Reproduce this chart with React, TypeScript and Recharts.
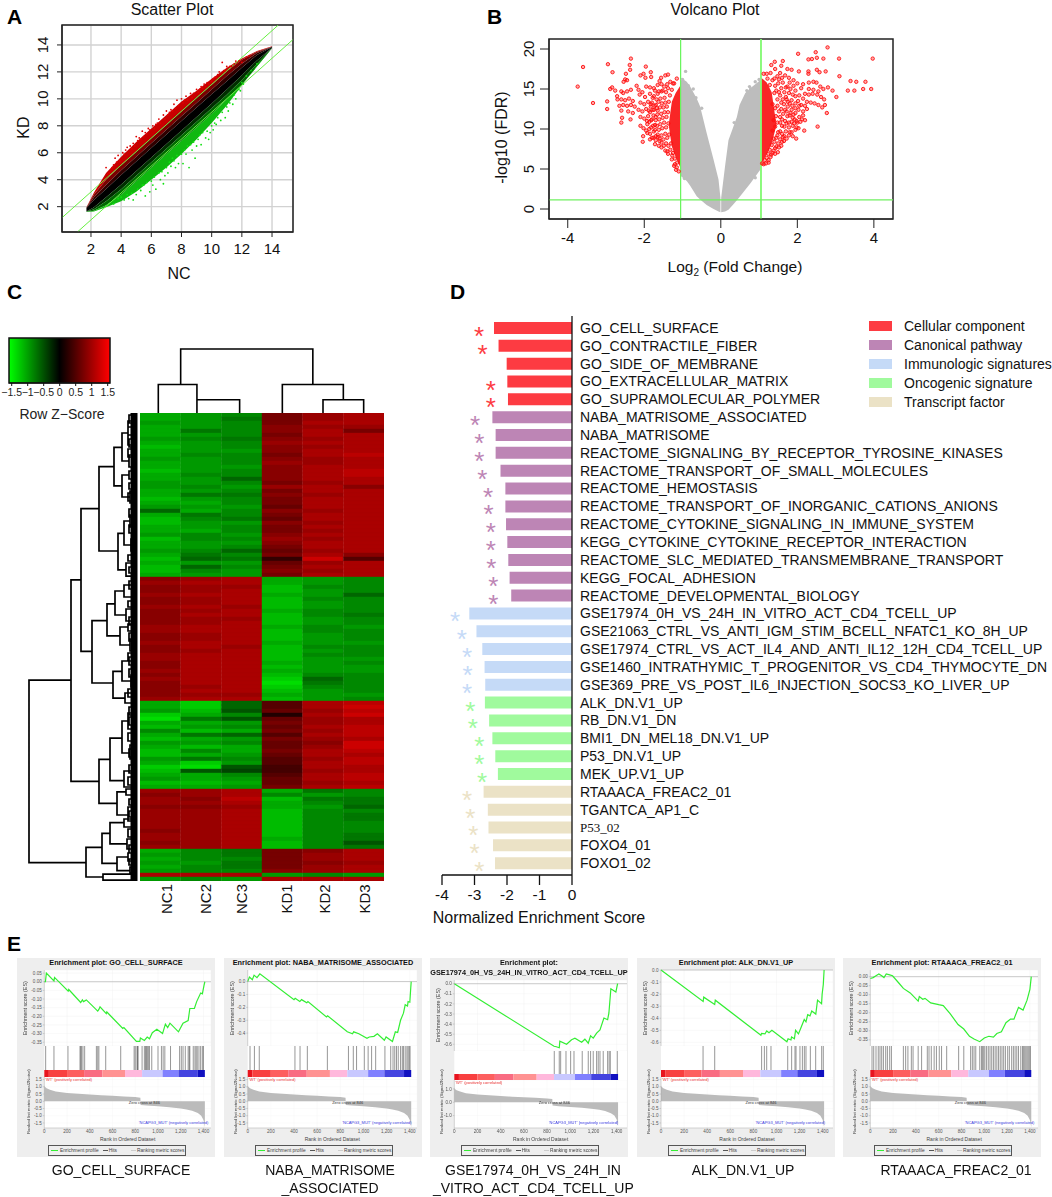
import React from 'react';
import {
  AreaChart, Area, BarChart, Bar, Cell, CartesianGrid, ComposedChart, LabelList, Line, LineChart,
  ReferenceArea, ReferenceLine, Scatter, XAxis, YAxis,
} from 'recharts';

const FONT = '"Liberation Sans", Arial, sans-serif';

// ---------- A: scatter plot, envelopes of the point cloud
const cloudX = [1.7, 2.2, 3, 4, 5, 6, 7, 8, 9, 10, 11, 12, 13, 14];
const redHi = [1.95, 3.05, 4.5, 5.7, 6.8, 7.8, 8.8, 9.8, 10.6, 11.5, 12.3, 13.0, 13.55, 13.9];
const redMid = [1.93, 2.9, 4.0, 5.1, 6.1, 7.1, 8.1, 9.1, 10.1, 11.05, 12.05, 12.9, 13.5, 13.87];
const redDark = [1.9, 2.7, 3.6, 4.7, 5.7, 6.7, 7.7, 8.7, 9.7, 10.7, 11.7, 12.6, 13.4, 13.86];
const blackHi = [1.9, 2.5, 3.32, 4.35, 5.35, 6.35, 7.35, 8.35, 9.35, 10.35, 11.3, 12.3, 13.25, 13.85];
const blackLo = [1.65, 1.95, 2.7, 3.65, 4.65, 5.65, 6.65, 7.65, 8.65, 9.65, 10.7, 11.75, 12.85, 13.8];
const greenDark = [1.63, 1.8, 2.4, 3.3, 4.3, 5.3, 6.3, 7.3, 8.3, 9.3, 10.3, 11.4, 12.6, 13.78];
const greenMid = [1.62, 1.7, 2.1, 2.9, 3.9, 4.9, 5.9, 6.9, 7.9, 8.9, 9.95, 11.05, 12.4, 13.76];
const greenLo = [1.6, 1.65, 1.95, 2.4, 3.1, 4.0, 4.9, 5.9, 7.0, 8.2, 9.5, 11.0, 12.5, 13.75];
const redDots = [
  [2.6, 3.6], [3.0, 4.9], [3.2, 4.5], [3.4, 4.9], [3.6, 5.6], [3.8, 5.8], [3.9, 5.4], [4.1, 6.0], [4.4, 6.4], [4.6, 6.5],
  [4.8, 6.7], [5.0, 7.2], [5.2, 7.1], [5.4, 7.6], [5.6, 7.5], [5.8, 7.8], [6.1, 8.0], [6.3, 8.1], [6.5, 8.5], [6.8, 8.8],
  [7.0, 9.1], [7.3, 9.2], [7.5, 9.6], [7.7, 9.9], [8.0, 10.0], [8.3, 10.2], [8.6, 10.4], [9.0, 10.7], [9.3, 10.9], [9.7, 11.2],
  [10.1, 11.5], [10.3, 11.6], [10.7, 12.7], [10.9, 12.1], [11.3, 12.4], [11.6, 12.8], [12.0, 12.7], [12.3, 13.1], [12.5, 13.2], [9.5, 11.1],
  [3.1, 4.4], [3.5, 5.1], [3.7, 5.3], [4.2, 5.9], [4.3, 6.2], [4.7, 6.3], [4.9, 6.5], [5.1, 6.9], [5.3, 7], [5.5, 7.2],
  [5.7, 7.4], [5.9, 7.7], [6.2, 7.8], [6.4, 8.2], [6.6, 8.2], [6.9, 8.5], [7.1, 8.8], [7.2, 9], [7.4, 9.1], [7.6, 9.3],
  [7.8, 9.5], [8.1, 9.7], [8.2, 9.9], [8.4, 9.9], [8.7, 10.1], [8.8, 10.4], [9.1, 10.5], [9.2, 10.7], [9.4, 10.8], [9.6, 10.9],
  [9.8, 11.1], [10, 11.3], [10.2, 11.6], [10.4, 11.8], [10.5, 12], [10.8, 12.1], [11, 12.4], [11.2, 12.4], [11.5, 12.6], [11.8, 12.8],
];
const greenDots = [
  [3.5, 2.2], [4.2, 2.5], [4.5, 2.6], [4.8, 2.5], [5.0, 2.9], [5.3, 3.2], [5.6, 2.8], [5.9, 3.1], [6.1, 3.6], [6.3, 3.3],
  [6.6, 4.0], [6.9, 4.3], [7.1, 4.5], [7.3, 5.0], [7.6, 4.9], [7.8, 5.2], [8.1, 5.2], [8.5, 4.9], [8.9, 5.6], [8.7, 6.2],
  [9.0, 6.5], [9.3, 6.6], [9.6, 7.1], [9.8, 7.0], [10.1, 7.7], [10.3, 8.1], [10.6, 8.4], [10.9, 8.6], [11.1, 9.1], [11.4, 9.6],
  [11.6, 10.0], [11.9, 10.6], [12.1, 11.1], [12.6, 12.1], [13.0, 12.6], [7.4, 5.6], [8.3, 5.9], [9.9, 7.5], [6.8, 3.7], [5.5, 3.6],
  [3.8, 2.6], [4, 2.7], [4.4, 2.9], [4.7, 3], [5.1, 3.3], [5.4, 3.6], [5.7, 3.8], [6, 3.9], [6.2, 4.2], [6.5, 4.5],
  [6.7, 4.6], [7, 4.9], [7.2, 5.3], [7.5, 5.4], [7.7, 5.8], [8, 5.9], [8.2, 6.2], [8.4, 6.5], [8.6, 6.6], [8.8, 6.8],
  [9.1, 7], [9.2, 7.3], [9.4, 7.5], [9.7, 7.6], [10, 8], [10.2, 8.2], [10.4, 8.6], [10.7, 9], [11, 9.4], [11.2, 9.7],
  [11.5, 10.3], [11.8, 10.7], [12, 11.2], [12.3, 11.7],
];
const scatterTicks = [2, 4, 6, 8, 10, 12, 14];
const upperLine = [{ x: 0.1, y: 1.2 }, { x: 14.42, y: 15.48 }];
const lowerLine = [{ x: 1.12, y: 0.14 }, { x: 15.37, y: 14.38 }];

// ---------- B: volcano plot
const volcanoTicksX = [-4, -2, 0, 2, 4];
const volcanoTicksY = [0, 5, 10, 15, 20];
const grayLeft = [[-1.04, 4.1, 16.4], [-0.89, 3.5, 15.9], [-0.8, 2.9, 15.3], [-0.63, 1.6, 13.8], [-0.54, 1.2, 12.8], [-0.37, 0.5, 9.5], [-0.19, 0, 6.2], [-0.06, -0.3, 3.7], [-0.01, -0.4, 1.4]];
const grayRight = [[0.01, -0.4, 1.4], [0.11, -0.3, 5.3], [0.2, -0.1, 8.6], [0.33, 0.6, 10.3], [0.42, 1.1, 11.5], [0.49, 1.5, 13], [0.64, 2.4, 14.5], [0.77, 3.2, 15.1], [1.03, 4.9, 16.1]];
const redCoreLeft = [[-1.36, 10.4, 10.6], [-1.28, 7.8, 13.4], [-1.18, 6.5, 14.5], [-1.06, 5.2, 15.4]];
const redCoreRight = [[1.06, 5.7, 16.4], [1.2, 6.8, 15.8], [1.33, 8.2, 14.6], [1.45, 10.4, 10.6]];
const grayDots = [[-0.92, 17.2], [-1.0, 16.2], [-0.95, 15.7], [-0.85, 15.4], [-0.72, 15], [-0.65, 13.9], [-0.5, 12.6], [0.75, 15.3], [0.78, 15], [0.9, 15.9], [1.0, 16.2], [0.68, 14.8], [0.35, 10.8], [-0.8, 3.4], [0.9, 3.9], [-0.95, 3.8]];
const redDotsLeft = [
  [-3.74, 15.3], [-3.6, 17.75], [-3.34, 13.25], [-2.97, 13.45], [-2.97, 12.5], [-2.95, 18.1], [-2.83, 17.1], [-2.89, 15], [-2.84, 15.2], [-2.76, 14.8],
  [-2.71, 14.1], [-2.7, 13.7], [-2.35, 18.8], [-2.38, 18], [-2.37, 17.4], [-2.48, 16.9], [-2.5, 16.2], [-2.45, 16.1], [-2.54, 15.9], [-1.96, 17.8],
  [-1.83, 17.1], [-2.02, 16.9], [-2.1, 16.7], [-1.97, 16.4], [-1.82, 16.5], [-1.56, 16.4], [-1.45, 16.7], [-1.38, 16.8], [-1.15, 16.3], [-1.6, 16],
  [-2.6, 14.7], [-2.55, 14.5], [-2.45, 14.7], [-2.35, 14.9], [-2.6, 13.7], [-2.5, 13.6], [-2.4, 13.8], [-2.3, 13.5], [-2.55, 13], [-2.65, 12.9],
  [-2.45, 12.9], [-2.35, 13], [-2.25, 12.8], [-2.6, 12.3], [-2.42, 12.2], [-2.3, 12], [-2.58, 11.4], [-2.6, 10.8], [-2.36, 11.2], [-2.12, 14.3],
  [-2.05, 14.6], [-1.95, 15.3], [-1.85, 15.2], [-1.75, 15.1], [-1.65, 15.5], [-1.55, 15.6], [-2.2, 15.4], [-2.15, 14.9], [-1.98, 14], [-1.85, 14.4],
  [-1.75, 14.1], [-1.65, 14.4], [-2.1, 13.3], [-2.0, 13.1], [-1.9, 13.4], [-1.8, 13.3], [-1.7, 13], [-2.15, 12.4], [-2.05, 12.2], [-1.95, 12.5],
  [-1.85, 12.1], [-1.75, 12.4], [-1.65, 12.3], [-2.1, 11.5], [-2.0, 11.3], [-1.9, 11.6], [-1.8, 11.2], [-1.7, 11.5], [-2.1, 10.4], [-2.02, 10.1],
  [-1.92, 10.6], [-1.82, 10.2], [-1.72, 10.5], [-1.95, 9.8], [-1.85, 9.4], [-1.75, 9.7], [-1.65, 9.3], [-2.03, 9.1], [-2.04, 8.4], [-1.8, 8.9],
  [-1.7, 8.6], [-1.6, 8.8], [-1.72, 8.1], [-1.55, 7.7], [-1.45, 7.3], [-1.38, 6.9], [-1.28, 6.2], [-1.2, 5.6], [-1.15, 5.2], [-1.1, 4.7],
  [-1.55, 14.7], [-1.48, 15.3], [-1.4, 15.6], [-1.32, 15.9], [-1.25, 15.7],
  [-1.22, 15.7], [-1.28, 14.9], [-1.33, 14.2], [-1.38, 15.1], [-1.43, 14.6], [-1.47, 13.9], [-1.52, 14.8], [-1.58, 13.8], [-1.62, 14.7], [-1.68, 13.7], [-1.72, 14.8], [-1.78, 13.9], [-1.83, 13.1],
  [-1.36, 13.4], [-1.41, 12.8], [-1.45, 13.3], [-1.5, 12.7], [-1.54, 13.2], [-1.59, 12.7], [-1.63, 13.4], [-1.67, 12.6], [-1.73, 12.9], [-1.78, 12.4], [-1.83, 12.8], [-1.88, 12.3],
  [-1.38, 12.1], [-1.42, 11.5], [-1.47, 12.1], [-1.52, 11.4], [-1.56, 11.9], [-1.61, 11.2], [-1.66, 11.8], [-1.7, 11.1], [-1.76, 11.7], [-1.82, 11.1], [-1.87, 10.9], [-1.93, 11.0],
  [-1.37, 10.7], [-1.43, 10.2], [-1.48, 10.8], [-1.53, 10.1], [-1.58, 10.6], [-1.62, 9.9], [-1.67, 10.4], [-1.72, 9.9], [-1.77, 10.4], [-1.87, 10.0], [-1.92, 9.5],
  [-1.35, 9.3], [-1.4, 8.9], [-1.45, 9.4], [-1.5, 8.7], [-1.55, 9.2], [-1.6, 8.5], [-1.65, 9.0], [-1.7, 9.1], [-1.76, 8.9], [-1.85, 8.7], [-1.3, 8.2], [-1.37, 7.9],
  [-1.43, 8.2], [-1.49, 7.9], [-1.55, 8.3], [-1.62, 7.9], [-1.25, 7.0], [-1.32, 7.4], [-1.4, 7.2], [-1.2, 6.3], [-1.27, 6.7], [-1.14, 5.8], [-1.22, 5.4], [-1.17, 4.9],
];
const redDotsRight = [
  [2.79, 20.2], [2.02, 19.4], [2.48, 19.6], [3.97, 18.8], [3.09, 18.8], [2.29, 18.7], [2.38, 18.75], [2.51, 18.9], [2.68, 18.8], [1.62, 18.5],
  [1.41, 18.4], [1.32, 18], [1.58, 17.9], [1.42, 17.5], [1.74, 17.5], [1.85, 17.4], [2.04, 17.2], [2.29, 17.2], [2.51, 17.4], [2.58, 17.1],
  [2.74, 17.2], [3.1, 16.6], [3.39, 16], [3.54, 15.9], [3.78, 15.9], [3.32, 14.8], [3.49, 14.8], [3.72, 15], [3.93, 15], [2.8, 15.2],
  [2.92, 14.8], [3.02, 14], [2.77, 12], [2.53, 10.3], [2.18, 9.8], [1.97, 8.8], [1.49, 7.1], [2.29, 16.9], [2.3, 15.8], [2.42, 15.9],
  [2.5, 15.8], [2.6, 15.3], [2.68, 15], [2.55, 14.7], [2.42, 14.9], [2.3, 15], [2.2, 14.4], [2.3, 14.3], [2.4, 14.4], [2.52, 14.3],
  [2.62, 14], [2.7, 13.7], [2.72, 13], [2.65, 12.7], [2.55, 13], [2.45, 13.2], [2.35, 13.3], [2.25, 13.4], [2.15, 13.8], [2.05, 14.2],
  [1.95, 14.8], [2.0, 15.7], [2.15, 15.6], [1.9, 16.1], [1.78, 16.4], [1.68, 16.7], [1.55, 17], [1.48, 16.6], [1.3, 17], [1.2, 16.9],
  [1.12, 16.9], [2.25, 12.5], [2.15, 12.2], [2.05, 12.9], [1.95, 13.2], [1.85, 13.6], [1.78, 14.5], [1.7, 15.2], [1.62, 15.8], [2.15, 11.7],
  [2.05, 11.5], [1.95, 12], [1.85, 12.4], [1.75, 12.8], [2.08, 10.9], [1.98, 11], [1.88, 11.4], [1.8, 11.7], [1.98, 10.2], [1.88, 10.4],
  [1.78, 10.8], [1.7, 9.7], [1.85, 9.6], [1.78, 9.2], [1.62, 9], [1.6, 8.4], [1.5, 8.2], [1.4, 8.4], [1.42, 7.6], [1.35, 7],
  [1.3, 6.5], [1.25, 6.1], [1.18, 5.7], [1.12, 5.6], [1.45, 14.8], [1.55, 14.2], [1.62, 13.7], [1.7, 14], [1.9, 15.4], [2.1, 15.1],
  [1.55, 11.5], [1.6, 10.4], [1.68, 11], [1.72, 12.2], [1.8, 15.8], [1.52, 16.2], [1.6, 16.4], [1.4, 16.3], [1.75, 13.4], [1.5, 9.6],
  [1.22, 16.3], [1.28, 15.5], [1.35, 16.1], [1.42, 15.4], [1.5, 15.7], [1.58, 15.1], [1.66, 14.6], [1.74, 15.3], [1.82, 15], [1.88, 14.3], [1.95, 14.1], [2.02, 13.5],
  [1.4, 14.5], [1.48, 13.7], [1.52, 14.6], [1.58, 13.3], [1.65, 13.1], [1.72, 13.7], [1.8, 13.2], [1.87, 12.9], [1.95, 12.6], [2.03, 12.4], [2.1, 13], [2.2, 12.9],
  [1.35, 13.1], [1.42, 12.6], [1.48, 12.9], [1.52, 12.2], [1.58, 12.5], [1.63, 11.9], [1.68, 12.4], [1.74, 11.6], [1.82, 12], [1.9, 11.8], [1.93, 11.2], [2.0, 10.8], [2.12, 11.2], [2.2, 11.1],
  [1.38, 11.1], [1.44, 11.6], [1.48, 10.8], [1.55, 10.8], [1.6, 11.2], [1.66, 10.3], [1.72, 10.7], [1.78, 10.2], [1.85, 10.9], [1.92, 10.7], [1.95, 9.9], [2.03, 10.1],
  [1.35, 9.8], [1.42, 10.3], [1.48, 9.2], [1.55, 9.7], [1.6, 9.4], [1.66, 9.1], [1.72, 8.8], [1.8, 9.6], [1.88, 9.1], [1.65, 8.5], [1.55, 8.7], [1.45, 8.9], [1.38, 8.8],
  [1.33, 8.0], [1.45, 7.8], [1.52, 7.7], [1.58, 7.9], [1.28, 7.4], [1.38, 7.3], [1.24, 6.9], [1.2, 6.4], [1.32, 6.8], [1.15, 6.1], [1.08, 5.7], [1.25, 5.8], [1.42, 6.9],
];
const greenH = [{ x: -4.49, y: 1.13 }, { x: 4.5, y: 1.13 }];
const greenV1 = [{ x: -1.05, y: -1.25 }, { x: -1.05, y: 21.25 }];
const greenV2 = [{ x: 1.05, y: -1.25 }, { x: 1.05, y: 21.25 }];

// ---------- C: heatmap, z score x 10 per sample (blocks of 41, 31, 22, 15, 6, 1, 1 rows)
const NC1 = [
  -10, -10, -9, -10, -10, -10, -9, -10, -11, -10, -10, -9, -10, -10, -11, -10, -10, -9, -9, -10, -10, -11, -10, -9, -6, -10, -11, -11, -10, -10, -9, -11, -10, -10, -9, -10, -11, -10, -11, -11, -10,
  8, 9, 8, 8, 9, 8, 8, 9, 8, 8, 8, 8, 9, 9, 8, 8, 9, 8, 8, 9, 9, 8, 8, 9, 8, 9, 8, 8, 8, 8, 9,
  -10, -10, -9, -12, -13, -10, -11, -8, -10, -11, -9, -10, -11, -11, -9, -10, -12, -11, -10, -9, -11, -10,
  9, 8, 9, 9, 8, 9, 9, 9, 9, 9, 8, 9, 9, 8, 9,
  -10, -9, -10, -9, -10, -9,
  10,
  -9,
];
const NC2 = [
  -9, -9, -9, -9, -7, -9, -8, -9, -9, -9, -8, -9, -9, -9, -9, -8, -9, -9, -8, -9, -7, -9, -10, -9, -10, -7, -8, -9, -9, -10, -8, -8, -9, -9, -8, -7, -6, -9, -6, -8, -9,
  9, 10, 9, 9, 10, 9, 9, 10, 9, 10, 9, 9, 10, 10, 9, 9, 10, 10, 9, 10, 10, 10, 10, 10, 10, 10, 10, 9, 10, 9, 10,
  -12, -12, -11, -10, -7, -10, -9, -11, -7, -10, -9, -11, -8, -10, -7, -12, -13, -5, -10, -10, -11, -10,
  9, 9, 8, 9, 8, 9, 9, 9, 9, 9, 9, 9, 9, 9, 9,
  -8, -8, -8, -9, -8, -8,
  10,
  -8,
];
const NC3 = [
  -8, -7, -8, -8, -8, -8, -7, -8, -8, -9, -8, -8, -8, -9, -8, -8, -6, -8, -9, -8, -7, -8, -8, -9, -8, -8, -7, -9, -8, -8, -9, -8, -9, -8, -6, -8, -7, -9, -8, -9, -9,
  10, 10, 9, 10, 10, 10, 10, 9, 10, 10, 9, 10, 10, 10, 10, 10, 10, 9, 10, 10, 10, 10, 10, 10, 10, 10, 10, 10, 10, 9, 10,
  -6, -6, -5, -8, -5, -9, -8, -10, -6, -9, -8, -10, -10, -9, -8, -9, -5, -4, -8, -9, -10, -9,
  10, 10, 11, 10, 9, 10, 10, 10, 10, 10, 10, 10, 10, 10, 10,
  -7, -7, -8, -7, -7, -8,
  10,
  -9,
];
const KD1 = [
  7, 7, 7, 8, 8, 7, 8, 9, 8, 8, 7, 8, 9, 8, 8, 8, 8, 7, 9, 7, 8, 7, 7, 6, 8, 7, 6, 8, 7, 7, 8, 9, 8, 7, 6, 7, 3, 6, 7, 8, 7,
  -10, -10, -11, -11, -10, -11, -11, -11, -10, -11, -11, -11, -10, -11, -11, -11, -10, -11, -11, -11, -11, -10, -11, -10, -11, -12, -13, -12, -11, -10, -11,
  5, 5, 6, 2, 6, 7, 6, 7, 5, 7, 6, 6, 7, 6, 5, 5, 4, 4, 5, 6, 6, 7,
  -10, -8, -11, -10, -10, -11, -11, -11, -11, -11, -11, -11, -10, -11, -11,
  7, 7, 7, 7, 7, 8,
  -9,
  10,
];
const KD2 = [
  9, 9, 10, 9, 10, 10, 9, 10, 9, 10, 10, 9, 9, 10, 10, 10, 10, 9, 10, 10, 9, 10, 10, 10, 9, 10, 10, 9, 10, 9, 10, 9, 10, 10, 9, 10, 12, 9, 10, 9, 10,
  -9, -9, -8, -9, -9, -8, -9, -9, -8, -8, -9, -9, -8, -8, -9, -9, -9, -8, -9, -8, -9, -9, -9, -9, -8, -6, -7, -8, -9, -9, -9,
  10, 10, 9, 10, 9, 9, 10, 9, 10, 9, 8, 9, 10, 10, 9, 10, 10, 9, 10, 10, 9, 10,
  -7, -9, -7, -8, -9, -8, -8, -8, -8, -8, -8, -8, -8, -8, -8,
  8, 9, 9, 8, 9, 9,
  -8,
  10,
];
const KD3 = [
  10, 10, 10, 9, 7, 10, 10, 10, 10, 10, 11, 10, 10, 10, 11, 11, 10, 10, 8, 10, 10, 10, 10, 10, 10, 10, 10, 10, 10, 10, 10, 10, 10, 10, 10, 8, 5, 10, 10, 10, 10,
  -8, -8, -8, -8, -6, -8, -8, -8, -8, -7, -8, -8, -9, -8, -8, -8, -9, -8, -8, -8, -9, -8, -9, -9, -8, -8, -8, -8, -8, -9, -8,
  11, 12, 11, 12, 10, 10, 11, 11, 11, 10, 12, 12, 11, 10, 11, 11, 10, 10, 11, 11, 10, 11,
  -8, -8, -7, -7, -6, -8, -7, -7, -8, -8, -8, -7, -7, -5, -7,
  10, 10, 10, 9, 10, 10,
  -9,
  10,
];
const samples = ['NC1', 'NC2', 'NC3', 'KD1', 'KD2', 'KD3'];
const sampleValues = [NC1, NC2, NC3, KD1, KD2, KD3];
const keyTicks = [-1.5, -1, -0.5, 0, 0.5, 1, 1.5];

// dendrogram merges: [position a, height a, position b, height b, merge height]
const colMerges = [
  [0.45, 0, 1.4, 13, 28], [1.4, 0, 2.45, 0, 13], [3.5, 0, 5.0, 13, 28], [4.5, 0, 5.5, 0, 13], [1.0, 28, 4.25, 28, 63],
];
const rowMerges = [
  [66.8, 69, 112.4, 54, 111], [41.7, 59, 92.1, 41, 69], [23.9, 41, 59.6, 48, 59], [13.4, 26, 34.5, 22, 41], [8.6, 18, 18.2, 18, 26],
  [30.1, 16, 39.2, 14, 22], [51.9, 33, 67.5, 27, 48], [47.7, 25, 55.7, 20, 33], [64.6, 18, 71.3, 15, 27], [86.6, 30, 97.6, 23, 41],
  [81.3, 18, 91.9, 16, 30], [94.7, 14, 100.5, 12, 23], [108.6, 38, 116, 37, 54], [105.1, 30, 112.6, 23, 38], [102.4, 16, 107.7, 13, 30],
  [111, 12, 114.4, 10, 23], [115.3, 4, 116.8, 4, 37], [5, 12, 12, 11, 18], [15.5, 11, 21, 10, 18], [2, 6, 8, 6, 12],
  [10.5, 5, 13.5, 5, 11], [14.5, 6, 16.5, 5, 11], [19.5, 5, 22.5, 6, 10], [27, 10, 33, 9, 16], [37.5, 7, 40.8, 6, 14],
  [25.5, 5, 28.5, 5, 10], [31.5, 5, 34.5, 4, 9], [44.5, 16, 50.5, 14, 25], [43, 8, 46, 7, 16], [49, 7, 52, 6, 14],
  [53.5, 12, 58, 10, 20], [52.8, 5, 54.5, 5, 12], [56.5, 5, 59.5, 5, 10], [62, 11, 67, 9, 18], [61, 5, 63, 6, 11],
  [65.5, 5, 68.5, 4, 9], [70, 8, 72.5, 7, 15], [77, 12, 85, 10, 18], [75, 6, 79, 6, 12], [83, 6, 86.5, 5, 10],
  [89.5, 9, 93.5, 8, 16], [94, 6, 95.5, 6, 14], [98.5, 6, 102, 5, 12], [101.5, 8, 103.5, 7, 16], [106.5, 6, 109, 5, 13],
  [110, 5, 112, 4, 12], [113.5, 4, 115, 3, 10],
  [0.5, 5, 2.5, 5, 11], [3.5, 5, 5.5, 5, 12], [6.5, 5, 8.5, 5, 11], [9, 5, 11, 5, 12], [17.5, 5, 19, 5, 11], [20, 5, 22, 5, 12],
  [24, 5, 26, 5, 11], [28, 5, 30, 5, 11], [35.5, 5, 37, 5, 12], [38.5, 5, 40, 5, 11], [42, 5, 44, 5, 11], [47, 5, 48.5, 5, 12],
  [51, 5, 53, 5, 11], [55, 5, 57, 5, 11], [60, 5, 62, 5, 12], [64, 5, 66, 5, 11], [69, 5, 71, 5, 12], [73.5, 5, 75.5, 5, 11],
  [76, 5, 78, 5, 11], [80, 5, 82, 5, 12], [84, 5, 86, 5, 11], [88, 5, 90, 5, 11], [91, 5, 93, 5, 12], [96.5, 5, 98, 5, 11],
  [99.5, 5, 101, 5, 11], [104, 5, 106, 5, 12], [108, 5, 110, 5, 11], [111.5, 5, 113, 5, 11],
];
const leafBar = [{ h: 6, pos: 0 }, { h: 6, pos: 117 }];

// ---------- D: normalized enrichment scores
const pathways = [
  'GO_CELL_SURFACE', 'GO_CONTRACTILE_FIBER', 'GO_SIDE_OF_MEMBRANE', 'GO_EXTRACELLULAR_MATRIX', 'GO_SUPRAMOLECULAR_POLYMER',
  'NABA_MATRISOME_ASSOCIATED', 'NABA_MATRISOME', 'REACTOME_SIGNALING_BY_RECEPTOR_TYROSINE_KINASES', 'REACTOME_TRANSPORT_OF_SMALL_MOLECULES', 'REACTOME_HEMOSTASIS',
  'REACTOME_TRANSPORT_OF_INORGANIC_CATIONS_ANIONS', 'REACTOME_CYTOKINE_SIGNALING_IN_IMMUNE_SYSTEM', 'KEGG_CYTOKINE_CYTOKINE_RECEPTOR_INTERACTION', 'REACTOME_SLC_MEDIATED_TRANSMEMBRANE_TRANSPORT', 'KEGG_FOCAL_ADHESION',
  'REACTOME_DEVELOPMENTAL_BIOLOGY', 'GSE17974_0H_VS_24H_IN_VITRO_ACT_CD4_TCELL_UP', 'GSE21063_CTRL_VS_ANTI_IGM_STIM_BCELL_NFATC1_KO_8H_UP', 'GSE17974_CTRL_VS_ACT_IL4_AND_ANTI_IL12_12H_CD4_TCELL_UP', 'GSE1460_INTRATHYMIC_T_PROGENITOR_VS_CD4_THYMOCYTE_DN',
  'GSE369_PRE_VS_POST_IL6_INJECTION_SOCS3_KO_LIVER_UP', 'ALK_DN.V1_UP', 'RB_DN.V1_DN', 'BMI1_DN_MEL18_DN.V1_UP', 'P53_DN.V1_UP',
  'MEK_UP.V1_UP', 'RTAAACA_FREAC2_01', 'TGANTCA_AP1_C', 'P53_02', 'FOXO4_01', 'FOXO1_02',
];
const nes = [-2.4, -2.26, -2.01, -1.99, -1.97, -2.45, -2.35, -2.35, -2.2, -2.05, -2.05, -2.03, -1.99, -1.96, -1.92, -1.87, -3.16, -2.94, -2.76, -2.69, -2.67, -2.68, -2.55, -2.45, -2.36, -2.28, -2.72, -2.59, -2.57, -2.43, -2.37];
const starAt = [-2.86, -2.75, 0, -2.5, -2.5, -2.98, -2.85, -2.85, -2.76, -2.58, -2.57, -2.5, -2.5, -2.48, -2.42, -2.42, -3.6, -3.39, -3.23, -3.21, -3.23, -3.13, -3.05, -2.85, -2.85, -2.77, -3.23, -3.13, -3.04, -3.0, -2.85];
const groupColors = ['#fd3b42', '#bd85b5', '#c5daf7', '#a0fa9d', '#ebe2c6'];
const groupNames = ['Cellular component', 'Canonical pathway', 'Immunologic signatures', 'Oncogenic signature', 'Transcript factor'];
const groupSizes = [5, 11, 5, 5, 5];
const nesTicks = [-4, -3, -2, -1, 0];

// ---------- E: GSEA plots
const rankTicks = [0, 200, 400, 600, 800, 1000, 1200, 1400];
const metricRank = [0, 5, 20, 50, 100, 200, 300, 400, 500, 600, 700, 800, 845, 846, 847, 900, 1000, 1100, 1200, 1250, 1300, 1350, 1380, 1400, 1412];
const metricValue = [1.1, 1.0, 0.9, 0.8, 0.68, 0.58, 0.52, 0.47, 0.42, 0.38, 0.33, 0.29, 0.25, 0, -0.25, -0.29, -0.35, -0.42, -0.5, -0.57, -0.66, -0.82, -1.0, -1.3, -1.8];
const stripEdges = [0, 40, 200, 350, 510, 710, 860, 1040, 1180, 1350, 1412];
const stripColors = ['#e8141e', '#f84040', '#fd5f5f', '#f96c82', '#ff9292', '#ffb8dc', '#c8c8ff', '#8080ff', '#4444e0', '#1010c0'];

const esGoRank = [0, 10, 18, 85, 90, 210, 215, 320, 335, 345, 370, 470, 480, 490, 545, 550, 690, 700, 810, 840, 845, 880, 905, 925, 950, 990, 1040, 1065, 1085, 1105, 1180, 1220, 1265, 1280, 1320, 1340, 1375, 1390, 1405, 1412];
const esGoValue = [0, 0, 0.05, 0.005, 0.025, -0.055, -0.045, -0.12, -0.105, -0.115, -0.105, -0.17, -0.16, -0.145, -0.185, -0.175, -0.27, -0.265, -0.345, -0.345, -0.325, -0.34, -0.32, -0.33, -0.295, -0.275, -0.3, -0.245, -0.265, -0.24, -0.29, -0.24, -0.225, -0.155, -0.155, -0.115, -0.065, -0.07, -0.02, 0];
const esNabaRank = [0, 15, 40, 55, 80, 105, 400, 410, 450, 465, 510, 520, 680, 690, 860, 905, 915, 960, 1030, 1050, 1090, 1120, 1180, 1195, 1250, 1275, 1295, 1320, 1345, 1360, 1380, 1385, 1400, 1408, 1412];
const esNabaValue = [0, 0.035, 0.015, 0.05, 0.03, 0.06, -0.14, -0.13, -0.155, -0.14, -0.165, -0.155, -0.275, -0.265, -0.39, -0.405, -0.39, -0.405, -0.44, -0.43, -0.425, -0.405, -0.455, -0.43, -0.465, -0.39, -0.395, -0.3, -0.245, -0.18, -0.19, -0.155, -0.16, -0.05, 0];
const esGseRank = [0, 860, 880, 905, 910, 968, 1011, 1040, 1098, 1126, 1155, 1175, 1198, 1227, 1256, 1290, 1322, 1333, 1350, 1393, 1408];
const esGseValue = [0, -0.62, -0.625, -0.635, -0.57, -0.6, -0.555, -0.54, -0.58, -0.55, -0.59, -0.517, -0.54, -0.49, -0.457, -0.34, -0.357, -0.29, -0.05, -0.083, 0];
const esAlkRank = [0, 365, 370, 465, 470, 865, 870, 900, 915, 935, 960, 1090, 1100, 1125, 1130, 1155, 1165, 1190, 1215, 1240, 1255, 1270, 1290, 1305, 1340, 1355, 1390, 1395, 1405, 1412];
const esAlkValue = [0, -0.26, -0.225, -0.285, -0.25, -0.54, -0.525, -0.53, -0.505, -0.52, -0.5, -0.595, -0.57, -0.58, -0.555, -0.57, -0.5, -0.53, -0.47, -0.41, -0.43, -0.37, -0.38, -0.34, -0.365, -0.25, -0.28, -0.2, -0.12, 0];
const esRtaRank = [0, 25, 50, 75, 100, 120, 140, 170, 195, 250, 290, 350, 420, 430, 460, 480, 530, 600, 640, 700, 770, 820, 870, 910, 960, 1000, 1040, 1080, 1110, 1150, 1190, 1230, 1260, 1300, 1340, 1375, 1400, 1412];
const esRtaValue = [-0.01, -0.005, 0.005, 0.015, 0.005, -0.005, 0.015, 0.01, 0.005, -0.035, -0.065, -0.09, -0.135, -0.11, -0.125, -0.12, -0.145, -0.155, -0.16, -0.205, -0.265, -0.29, -0.33, -0.345, -0.36, -0.34, -0.33, -0.335, -0.315, -0.305, -0.255, -0.235, -0.235, -0.17, -0.185, -0.13, -0.07, 0];

const hitsGo = [12, 85, 208, 314, 320, 328, 340, 355, 458, 470, 480, 540, 672, 790, 800, 815, 820, 825, 860, 880, 890, 900, 905, 915, 925, 945, 1000, 1030, 1045, 1060, 1110, 1190, 1205, 1220, 1240, 1265, 1275, 1280, 1310, 1325, 1335, 1345, 1360, 1375, 1390, 1400];
const hitsNaba = [20, 58, 100, 408, 452, 515, 688, 870, 912, 940, 1007, 1040, 1070, 1105, 1185, 1235, 1255, 1270, 1285, 1300, 1320, 1335, 1345, 1360, 1375, 1385, 1395, 1402];
const hitsGse = [862, 905, 917, 963, 1003, 1032, 1103, 1155, 1175, 1198, 1227, 1241, 1256, 1284, 1322, 1335, 1345, 1405];
const hitsAlk = [364, 465, 871, 895, 915, 952, 1097, 1131, 1160, 1169, 1203, 1224, 1241, 1255, 1293, 1339, 1391, 1405];
const hitsRta = [15, 30, 50, 70, 85, 100, 115, 135, 150, 170, 185, 290, 310, 330, 360, 375, 420, 450, 500, 515, 535, 560, 580, 605, 625, 670, 775, 820, 880, 895, 910, 925, 960, 975, 985, 995, 1005, 1020, 1035, 1050, 1065, 1080, 1095, 1110, 1125, 1140, 1155, 1170, 1185, 1205, 1220, 1240, 1255, 1270, 1285, 1300, 1320, 1335, 1345, 1355, 1365, 1375, 1385, 1395, 1405];

const zip = (xs: number[], ys: number[]) => xs.map((rank, i) => ({ rank, es: ys[i] }));
const metricData = metricRank.map((rank, i) => ({ rank, metric: metricValue[i] }));

const scatterData = cloudX.map((x, i) => ({
  x,
  b1: [redMid[i], redHi[i]],
  b2: [redDark[i], redMid[i]],
  b3: [blackHi[i], redDark[i]],
  b4: [blackLo[i], blackHi[i]],
  b5: [greenDark[i], blackLo[i]],
  b6: [greenMid[i], greenDark[i]],
  b7: [greenLo[i], greenMid[i]],
}));
const toXY = (list: number[][]) => list.map(([x, y]) => ({ x, y }));
const volcanoData = [
  ...redCoreLeft.map(([x, lo, hi]) => ({ x, redBand: [lo, hi] })),
  { x: -1.05 },
  ...grayLeft.map(([x, lo, hi]) => ({ x, grayBand: [lo, hi] })),
  { x: 0 },
  ...grayRight.map(([x, lo, hi]) => ({ x, grayBand: [lo, hi] })),
  { x: 1.05 },
  ...redCoreRight.map(([x, lo, hi]) => ({ x, redBand: [lo, hi] })),
];

const zColor = (z10: number) => {
  const level = Math.min(255, Math.round((Math.abs(z10) / 15) * 255));
  return z10 >= 0 ? `rgb(${level},0,0)` : `rgb(0,${level},0)`;
};
const heatRows = NC1.map((_, row) => ({ row, one: 1 }));
const linkPoints = (merges: number[][]) => merges.flatMap(([a, ha, b, hb, h]) => [
  { pos: a, h: ha }, { pos: a, h }, { pos: b, h }, { pos: b, h: hb }, { pos: null, h: null },
]);
const colLinks = linkPoints(colMerges);
const rowLinks = linkPoints(rowMerges);

const groupOf = (i: number) => {
  let n = i;
  for (let g = 0; g < groupSizes.length; g++) {
    if (n < groupSizes[g]) return g;
    n -= groupSizes[g];
  }
  return 0;
};
const nesData = pathways.map((name, i) => ({
  name, nes: nes[i], gap: starAt[i] ? starAt[i] - nes[i] : -0.001, star: starAt[i] !== 0,
}));

const Pos = ({ x, y, w, h, children, style }: any) => (
  <div style={{ position: 'absolute', left: x, top: y, width: w, height: h, ...style }}>{children}</div>
);
const Txt = ({ x, y, w, size = 15, align = 'center', color = '#111', bold, children, rotate }: any) => (
  <div style={{
    position: 'absolute', left: x, top: y, width: w, fontSize: size, textAlign: align, color, lineHeight: 1.2,
    fontWeight: bold ? 700 : 400, fontFamily: FONT, whiteSpace: 'nowrap',
    transform: rotate ? `rotate(${rotate}deg)` : undefined,
  }}>{children}</div>
);
// rotated label, given by its centre
const VTxt = ({ cx, cy, size, color, children }: any) => (
  <Txt x={cx - 60} y={cy - size * 0.6} w={120} size={size} color={color} rotate={-90}>{children}</Txt>
);
const rotTick = (size: number, shift: number) => ({ x, y, payload }: any) => (
  <text x={x - shift} y={y} transform={`rotate(-90 ${x - shift} ${y})`} textAnchor="middle" fontSize={size} fill="#111" fontFamily={FONT}>{payload.value}</text>
);
const dotShape = (r: number, fill: string) => ({ cx, cy }: any) => <circle cx={cx} cy={cy} r={r} fill={fill} />;
const ringShape = ({ cx, cy }: any) => <circle cx={cx} cy={cy} r={1.7} fill="#ff0000" fillOpacity={0.35} stroke="#ff1010" strokeWidth={0.9} />;

const ScatterPanel = () => (
  <ComposedChart width={310} height={290} data={scatterData} margin={{ top: 25, right: 17, bottom: 0, left: 0 }}>
    <CartesianGrid stroke="#d2d2d2" strokeWidth={1.4} />
    <XAxis dataKey="x" type="number" domain={[0.08, 15.39]} ticks={scatterTicks} interval={0} height={58} allowDataOverflow
      tick={{ fontSize: 15, fill: '#111', fontFamily: FONT }} tickSize={5} tickMargin={6} stroke="#222" />
    <YAxis type="number" domain={[0.12, 15.48]} ticks={scatterTicks} interval={0} width={62} allowDataOverflow
      tick={rotTick(15, 7)} tickSize={5} stroke="#222" />
    <Area dataKey="b1" type="linear" stroke="none" fill="#c80000" fillOpacity={1} isAnimationActive={false} />
    <Area dataKey="b2" type="linear" stroke="none" fill="#7a0000" fillOpacity={1} isAnimationActive={false} />
    <Area dataKey="b3" type="linear" stroke="none" fill="#300000" fillOpacity={1} isAnimationActive={false} />
    <Area dataKey="b4" type="linear" stroke="none" fill="#000000" fillOpacity={1} isAnimationActive={false} />
    <Area dataKey="b5" type="linear" stroke="none" fill="#003000" fillOpacity={1} isAnimationActive={false} />
    <Area dataKey="b6" type="linear" stroke="none" fill="#006800" fillOpacity={1} isAnimationActive={false} />
    <Area dataKey="b7" type="linear" stroke="none" fill="#10b810" fillOpacity={1} isAnimationActive={false} />
    <Scatter data={toXY(redDots)} dataKey="y" shape={dotShape(0.9, '#e00000')} isAnimationActive={false} />
    <Scatter data={toXY(greenDots)} dataKey="y" shape={dotShape(0.9, '#10e010')} isAnimationActive={false} />
    <Line data={upperLine} dataKey="y" stroke="#66f040" strokeWidth={1} dot={false} isAnimationActive={false} />
    <Line data={lowerLine} dataKey="y" stroke="#66f040" strokeWidth={1} dot={false} isAnimationActive={false} />
    <ReferenceArea x1={0.08} x2={15.39} y1={0.12} y2={15.48} fill="none" stroke="#222" strokeWidth={1.5} />
  </ComposedChart>
);

const VolcanoPanel = () => (
  <ComposedChart width={420} height={290} data={volcanoData} margin={{ top: 39, right: 7, bottom: 0, left: 0 }}>
    <XAxis dataKey="x" type="number" domain={[-4.49, 4.5]} ticks={volcanoTicksX} interval={0} height={71} allowDataOverflow
      tick={{ fontSize: 15, fill: '#111', fontFamily: FONT }} tickSize={9} tickMargin={4} stroke="#222" />
    <YAxis type="number" domain={[-1.25, 21.25]} ticks={volcanoTicksY} interval={0} width={69} allowDataOverflow
      tick={rotTick(15, 4)} tickSize={9} stroke="#222" />
    <Area dataKey="grayBand" type="linear" stroke="none" fill="#bdbdbd" fillOpacity={1} isAnimationActive={false} />
    <Scatter data={toXY(grayDots)} dataKey="y" shape={dotShape(1.7, '#bdbdbd')} isAnimationActive={false} />
    <Area dataKey="redBand" type="linear" stroke="none" fill="#f80000" fillOpacity={0.85} isAnimationActive={false} />
    <Scatter data={toXY(redDotsLeft)} dataKey="y" shape={ringShape} isAnimationActive={false} />
    <Scatter data={toXY(redDotsRight)} dataKey="y" shape={ringShape} isAnimationActive={false} />
    <Line data={greenV1} dataKey="y" stroke="#66f55a" strokeWidth={1.2} dot={false} isAnimationActive={false} />
    <Line data={greenV2} dataKey="y" stroke="#80fa70" strokeWidth={1.8} dot={false} isAnimationActive={false} />
    <Line data={greenH} dataKey="y" stroke="#70f060" strokeWidth={1.2} dot={false} isAnimationActive={false} />
    <ReferenceArea x1={-4.49} x2={4.5} y1={-1.25} y2={21.25} fill="none" stroke="#222" strokeWidth={1.5} />
  </ComposedChart>
);

const ColorKey = () => (
  <ComposedChart width={120} height={66} data={keyTicks.map(v => ({ v, y: 0.5 }))} margin={{ top: 2, right: 10, bottom: 0, left: 9 }}>
    <defs>
      <linearGradient id="zKey" x1="0" y1="0" x2="1" y2="0">
        <stop offset="0%" stopColor="#00ff00" />
        <stop offset="50%" stopColor="#000000" />
        <stop offset="100%" stopColor="#ff0000" />
      </linearGradient>
    </defs>
    <XAxis dataKey="v" type="number" domain={[-1.584, 1.572]} ticks={keyTicks} interval={0} height={19} allowDataOverflow
      tick={{ fontSize: 10.5, fill: '#222', fontFamily: FONT }} tickSize={3} tickMargin={3} stroke="#111"
      tickFormatter={(v: number) => String(v).replace('-', '−')} />
    <YAxis hide domain={[0, 1]} />
    <Line dataKey="y" stroke="none" dot={false} isAnimationActive={false} />
    <ReferenceArea x1={-1.584} x2={1.572} y1={0} y2={1} fill="url(#zKey)" fillOpacity={1} stroke="#111" strokeWidth={1.5} />
  </ComposedChart>
);

const Heatmap = () => (
  <BarChart width={244} height={468} data={heatRows} layout="vertical" barCategoryGap={0} margin={{ top: 0, right: 0, bottom: 0, left: 0 }}>
    <XAxis type="number" hide domain={[0, 6]} />
    <YAxis type="category" dataKey="row" hide />
    {samples.map((s, c) => (
      <Bar key={s} dataKey="one" stackId="h" isAnimationActive={false}>
        {heatRows.map(r => {
          const fill = zColor(sampleValues[c][r.row]);
          return <Cell key={r.row} fill={fill} stroke={fill} strokeWidth={0.4} />;
        })}
      </Bar>
    ))}
  </BarChart>
);

const ColDendrogram = () => (
  <LineChart width={244} height={66} data={colLinks} margin={{ top: 0, right: 0, bottom: 0, left: 0 }}>
    <XAxis dataKey="pos" type="number" hide domain={[0, 6]} />
    <YAxis hide domain={[0, 65]} />
    <Line dataKey="h" stroke="#000" strokeWidth={1.6} dot={false} isAnimationActive={false} />
  </LineChart>
);

const RowDendrogram = () => (
  <LineChart width={120} height={468} data={rowLinks} margin={{ top: 0, right: 0, bottom: 0, left: 0 }}>
    <XAxis dataKey="h" type="number" hide domain={[0, 120]} reversed />
    <YAxis hide domain={[0, 117]} reversed />
    <Line dataKey="pos" stroke="#000" strokeWidth={1.7} dot={false} isAnimationActive={false} />
    <Line data={leafBar} dataKey="pos" stroke="#000" strokeWidth={7} dot={false} isAnimationActive={false} />
  </LineChart>
);

const pathwayTick = ({ x, y, payload }: any) => (
  <text x={x + 6} y={y + 5} fontSize={payload.value === 'P53_02' ? 13 : 14} fill="#111"
    fontFamily={payload.value === 'P53_02' ? '"Liberation Serif", serif' : FONT}>{payload.value}</text>
);
const starLabel = ({ x, y, width, height, index }: any) => {
  if (!nesData[index].star) return null;
  return (
    <text x={x + width} y={y + height / 2 + 17} textAnchor="middle" fontSize={26} fontFamily={FONT}
      fill={groupColors[groupOf(index)]}>*</text>
  );
};

const NesChart = () => (
  <BarChart width={622} height={620} data={nesData} layout="vertical" barSize={12} margin={{ top: 6, right: 0, bottom: 0, left: 12 }}>
    <XAxis type="number" domain={[-4, 0]} ticks={nesTicks} interval={0} height={55} tickSize={10} tickMargin={4} stroke="#111" strokeWidth={1.3}
      tick={{ fontSize: 15.5, fill: '#111', fontFamily: FONT }} />
    <YAxis type="category" dataKey="name" orientation="right" width={480} interval={0} tick={pathwayTick} tickSize={0} padding={{ top: 3, bottom: 3 }} stroke="#111" strokeWidth={1.3} />
    <Bar dataKey="nes" stackId="n" isAnimationActive={false}>
      {nesData.map((d, i) => <Cell key={d.name} fill={groupColors[groupOf(i)]} />)}
    </Bar>
    <Bar dataKey="gap" stackId="n" fill="none" isAnimationActive={false}>
      <LabelList dataKey="gap" content={starLabel} />
    </Bar>
  </BarChart>
);

const Gsea = ({ left, title, es, esDomain, esTicks, esDigits, hits, rankMax, plotLeft, plotRight, esTop, esBottom, hitBottom, stripBottom, metricTicks, metricDomain }: any) => {
  const W = 198;
  const right = W - plotRight;
  const hitData = hits.map((rank: number) => ({ rank, y: 0 }));
  const smallTick = { fontSize: 4.6, fill: '#555', fontFamily: FONT };
  return (
    <Pos x={left} y={958} w={W} h={199} style={{ background: '#eeeeee', filter: 'blur(0.35px)' }}>
      {title.map((t: string, i: number) => (
        <Txt key={t} x={0} y={1 + i * 10} w={W} size={7.3} bold>{t}</Txt>
      ))}
      <Pos x={0} y={esTop - 3} w={W} h={esBottom - esTop + 3}>
        <LineChart width={W} height={esBottom - esTop + 3} data={es} margin={{ top: 3, right, bottom: 0, left: 0 }}>
          <CartesianGrid fill="#fff" stroke="#f0f0f0" strokeWidth={0.4} />
          <XAxis dataKey="rank" type="number" hide domain={[0, rankMax]} ticks={rankTicks} />
          <YAxis type="number" domain={esDomain} ticks={esTicks} interval={0} width={plotLeft} tick={smallTick} tickSize={1.5} tickMargin={1} stroke="#999" strokeWidth={0.4}
            tickFormatter={(v: number) => v.toFixed(esDigits)} />
          <ReferenceLine y={0} stroke="#aaa" strokeWidth={0.6} />
          <Line dataKey="es" stroke="#33ee33" strokeWidth={1.2} dot={false} isAnimationActive={false} />
        </LineChart>
      </Pos>
      <Pos x={0} y={esBottom} w={W} h={hitBottom - esBottom}>
        <ComposedChart width={W} height={hitBottom - esBottom} data={hitData} margin={{ top: 0, right, bottom: 0, left: plotLeft }}>
          <CartesianGrid fill="#fff" stroke="none" />
          <XAxis dataKey="rank" type="number" hide domain={[0, rankMax]} />
          <YAxis hide domain={[0, 1]} />
          <Line dataKey="y" stroke="none" dot={false} isAnimationActive={false} />
          {hits.map((h: number) => <ReferenceLine key={h} x={h} stroke="#444" strokeOpacity={0.7} strokeWidth={0.8} />)}
        </ComposedChart>
      </Pos>
      <Pos x={0} y={hitBottom} w={W} h={stripBottom - hitBottom}>
        <ComposedChart width={W} height={stripBottom - hitBottom} data={hitData} margin={{ top: 0, right, bottom: 0, left: plotLeft }}>
          <CartesianGrid fill="#fff" stroke="none" />
          <XAxis dataKey="rank" type="number" hide domain={[0, rankMax]} />
          <YAxis hide domain={[0, 1]} />
          <Line dataKey="y" stroke="none" dot={false} isAnimationActive={false} />
          {stripColors.map((c, i) => <ReferenceArea key={c} x1={stripEdges[i]} x2={stripEdges[i + 1]} fill={c} fillOpacity={1} stroke="none" />)}
        </ComposedChart>
      </Pos>
      <Pos x={0} y={stripBottom} w={W} h={182 - stripBottom}>
        <AreaChart width={W} height={182 - stripBottom} data={metricData} margin={{ top: 0, right, bottom: 0, left: 0 }}>
          <CartesianGrid fill="#fff" stroke="#f4f4f4" strokeWidth={0.4} />
          <XAxis dataKey="rank" type="number" domain={[0, rankMax]} ticks={rankTicks} interval={0} height={12} tick={smallTick} tickSize={1.5} tickMargin={0.5} stroke="#999" strokeWidth={0.4}
            tickFormatter={(v: number) => v.toLocaleString('en-US')} />
          <YAxis type="number" domain={metricDomain} ticks={metricTicks} interval={0} width={plotLeft} tick={smallTick} tickSize={1.5} tickMargin={1} stroke="#999" strokeWidth={0.4}
            tickFormatter={(v: number) => v.toFixed(1)} />
          <Area dataKey="metric" type="linear" stroke="none" fill="#bbbbbb" fillOpacity={1} isAnimationActive={false} />
        </AreaChart>
      </Pos>
      <VTxt cx={8} cy={(esTop + esBottom) / 2} size={5.4} color="#444">Enrichment score (ES)</VTxt>
      <VTxt cx={12} cy={144} size={4.4} color="#444">Ranked list metric (Signal2Noise)</VTxt>
      <Txt x={plotLeft} y={177.5} w={plotRight - plotLeft} size={5} color="#444">Rank in Ordered Dataset</Txt>
      <Txt x={plotLeft + 1} y={stripBottom + 1} w={80} size={4} align="left" color="#e83030">'WT' (positively correlated)</Txt>
      <Txt x={plotLeft + 70} y={143} w={60} size={4} color="#333">Zero cross at 846</Txt>
      <Txt x={plotLeft + 64} y={163} w={100} size={4} align="right" color="#3a3ae0">'NCAPG3_MUT' (negatively correlated)</Txt>
      <div style={{ position: 'absolute', left: 31, top: 187, width: 136, height: 9, border: '1px solid #555', fontFamily: FONT, fontSize: 4.8, color: '#444', lineHeight: '9px', whiteSpace: 'nowrap' }}>
        <span style={{ display: 'inline-block', width: 7, height: 1, background: '#33ee33', margin: '0 2px 1px 2px', verticalAlign: 'middle' }} />Enrichment profile
        <span style={{ display: 'inline-block', width: 5, height: 1, background: '#555', margin: '0 1px 1px 4px', verticalAlign: 'middle' }} />Hits
        <span style={{ display: 'inline-block', width: 5, height: 1, background: '#ccc', margin: '0 1px 1px 14px', verticalAlign: 'middle' }} />Ranking metric scores
      </div>
    </Pos>
  );
};

const App = () => (
  <div style={{ position: 'absolute', left: 0, top: 0, width: 1052, height: 1197, background: '#fff', overflow: 'hidden', fontFamily: FONT }}>
    <Txt x={7} y={4} w={30} size={21} bold align="left" color="#000">A</Txt>
    <Txt x={487} y={4} w={30} size={21} bold align="left" color="#000">B</Txt>
    <Txt x={7} y={279} w={30} size={21} bold align="left" color="#000">C</Txt>
    <Txt x={450} y={279} w={30} size={21} bold align="left" color="#000">D</Txt>
    <Txt x={7} y={931} w={30} size={21} bold align="left" color="#000">E</Txt>

    <Txt x={72} y={0} w={200} size={16}>Scatter Plot</Txt>
    <Pos x={0} y={0} w={310} h={290}><ScatterPanel /></Pos>
    <VTxt cx={24} cy={128} size={16}>KD</VTxt>
    <Txt x={79} y={264} w={200} size={16}>NC</Txt>

    <Txt x={615} y={0} w={200} size={16}>Volcano Plot</Txt>
    <Pos x={480} y={0} w={420} h={290}><VolcanoPanel /></Pos>
    <VTxt cx={502} cy={138} size={16}>-log10 (FDR)</VTxt>
    <Txt x={635} y={258} w={200} size={15.5}>Log<sub style={{ fontSize: 10 }}>2</sub> (Fold Change)</Txt>

    <Pos x={0} y={336} w={120} h={66}><ColorKey /></Pos>
    <Txt x={2} y={406} w={120} size={14} color="#222">Row Z−Score</Txt>
    <Pos x={140} y={347} w={244} h={66}><ColDendrogram /></Pos>
    <Pos x={20} y={413} w={120} h={468}><RowDendrogram /></Pos>
    <Pos x={140} y={413} w={244} h={468} style={{ filter: 'blur(0.4px)' }}><Heatmap /></Pos>
    {samples.map((s, i) => (
      <Txt key={s} x={[147, 186, 222, 267, 305, 345][i]} y={890} w={40} size={15} rotate={-90}>{s}</Txt>
    ))}

    <Pos x={430} y={310} w={622} h={620}><NesChart /></Pos>
    <Txt x={430} y={908} w={218} size={16}>Normalized Enrichment Score</Txt>
    {groupNames.map((g, i) => (
      <React.Fragment key={g}>
        <Pos x={869} y={321 + i * 19} w={23} h={10} style={{ background: groupColors[i] }} />
        <Txt x={904} y={318 + i * 19} w={148} size={14} align="left">{g}</Txt>
      </React.Fragment>
    ))}

    <Gsea left={17} title={['Enrichment plot: GO_CELL_SURFACE']} es={zip(esGoRank, esGoValue)} esDomain={[-0.372, 0.068]}
      esTicks={[0.05, 0, -0.05, -0.1, -0.15, -0.2, -0.25, -0.3, -0.35]} esDigits={2} hits={hitsGo} rankMax={1466}
      plotLeft={27.3} plotRight={194} esTop={12} esBottom={88} hitBottom={112} stripBottom={119} metricTicks={[1.5, 1, 0.5, 0, -0.5, -1, -1.5]} metricDomain={[-1.85, 1.68]} />
    <Gsea left={224} title={['Enrichment plot: NABA_MATRISOME_ASSOCIATED']} es={zip(esNabaRank, esNabaValue)} esDomain={[-0.5, 0.09]}
      esTicks={[0, -0.1, -0.2, -0.3, -0.4]} esDigits={1} hits={hitsNaba} rankMax={1462}
      plotLeft={23.7} plotRight={193} esTop={12} esBottom={88} hitBottom={112} stripBottom={119} metricTicks={[1.5, 1, 0.5, 0, -0.5, -1, -1.5]} metricDomain={[-1.85, 1.68]} />
    <Gsea left={430} title={['Enrichment plot:', 'GSE17974_0H_VS_24H_IN_VITRO_ACT_CD4_TCELL_UP']} es={zip(esGseRank, esGseValue)} esDomain={[-0.667, 0.037]}
      esTicks={[0, -0.1, -0.2, -0.3, -0.4, -0.5, -0.6]} esDigits={1} hits={hitsGse} rankMax={1489}
      plotLeft={24.3} plotRight={197} esTop={22} esBottom={93} hitBottom={116} stripBottom={122} metricTicks={[1, 0, -1]} metricDomain={[-1.93, 1.67]} />
    <Gsea left={637} title={['Enrichment plot: ALK_DN.V1_UP']} es={zip(esAlkRank, esAlkValue)} esDomain={[-0.63, 0]}
      esTicks={[0, -0.1, -0.2, -0.3, -0.4, -0.5, -0.6]} esDigits={1} hits={hitsAlk} rankMax={1489}
      plotLeft={24} plotRight={196} esTop={12} esBottom={88} hitBottom={112} stripBottom={119} metricTicks={[1.5, 1, 0.5, 0, -0.5, -1, -1.5]} metricDomain={[-1.85, 1.68]} />
    <Gsea left={843} title={['Enrichment plot: RTAAACA_FREAC2_01']} es={zip(esRtaRank, esRtaValue)} esDomain={[-0.384, 0.037]}
      esTicks={[0, -0.05, -0.1, -0.15, -0.2, -0.25, -0.3, -0.35]} esDigits={2} hits={hitsRta} rankMax={1471}
      plotLeft={27.3} plotRight={195} esTop={12} esBottom={88} hitBottom={112} stripBottom={119} metricTicks={[1.5, 1, 0.5, 0, -0.5, -1, -1.5]} metricDomain={[-1.85, 1.68]} />

    <Txt x={21} y={1162} w={200} size={14}>GO_CELL_SURFACE</Txt>
    <Txt x={230} y={1162} w={200} size={14}>NABA_MATRISOME</Txt>
    <Txt x={230} y={1180} w={200} size={14}>_ASSOCIATED</Txt>
    <Txt x={433} y={1162} w={200} size={14}>GSE17974_0H_VS_24H_IN</Txt>
    <Txt x={433} y={1180} w={200} size={14}>_VITRO_ACT_CD4_TCELL_UP</Txt>
    <Txt x={643} y={1162} w={200} size={14}>ALK_DN.V1_UP</Txt>
    <Txt x={856} y={1162} w={200} size={14}>RTAAACA_FREAC2_01</Txt>
  </div>
);

export default App;
